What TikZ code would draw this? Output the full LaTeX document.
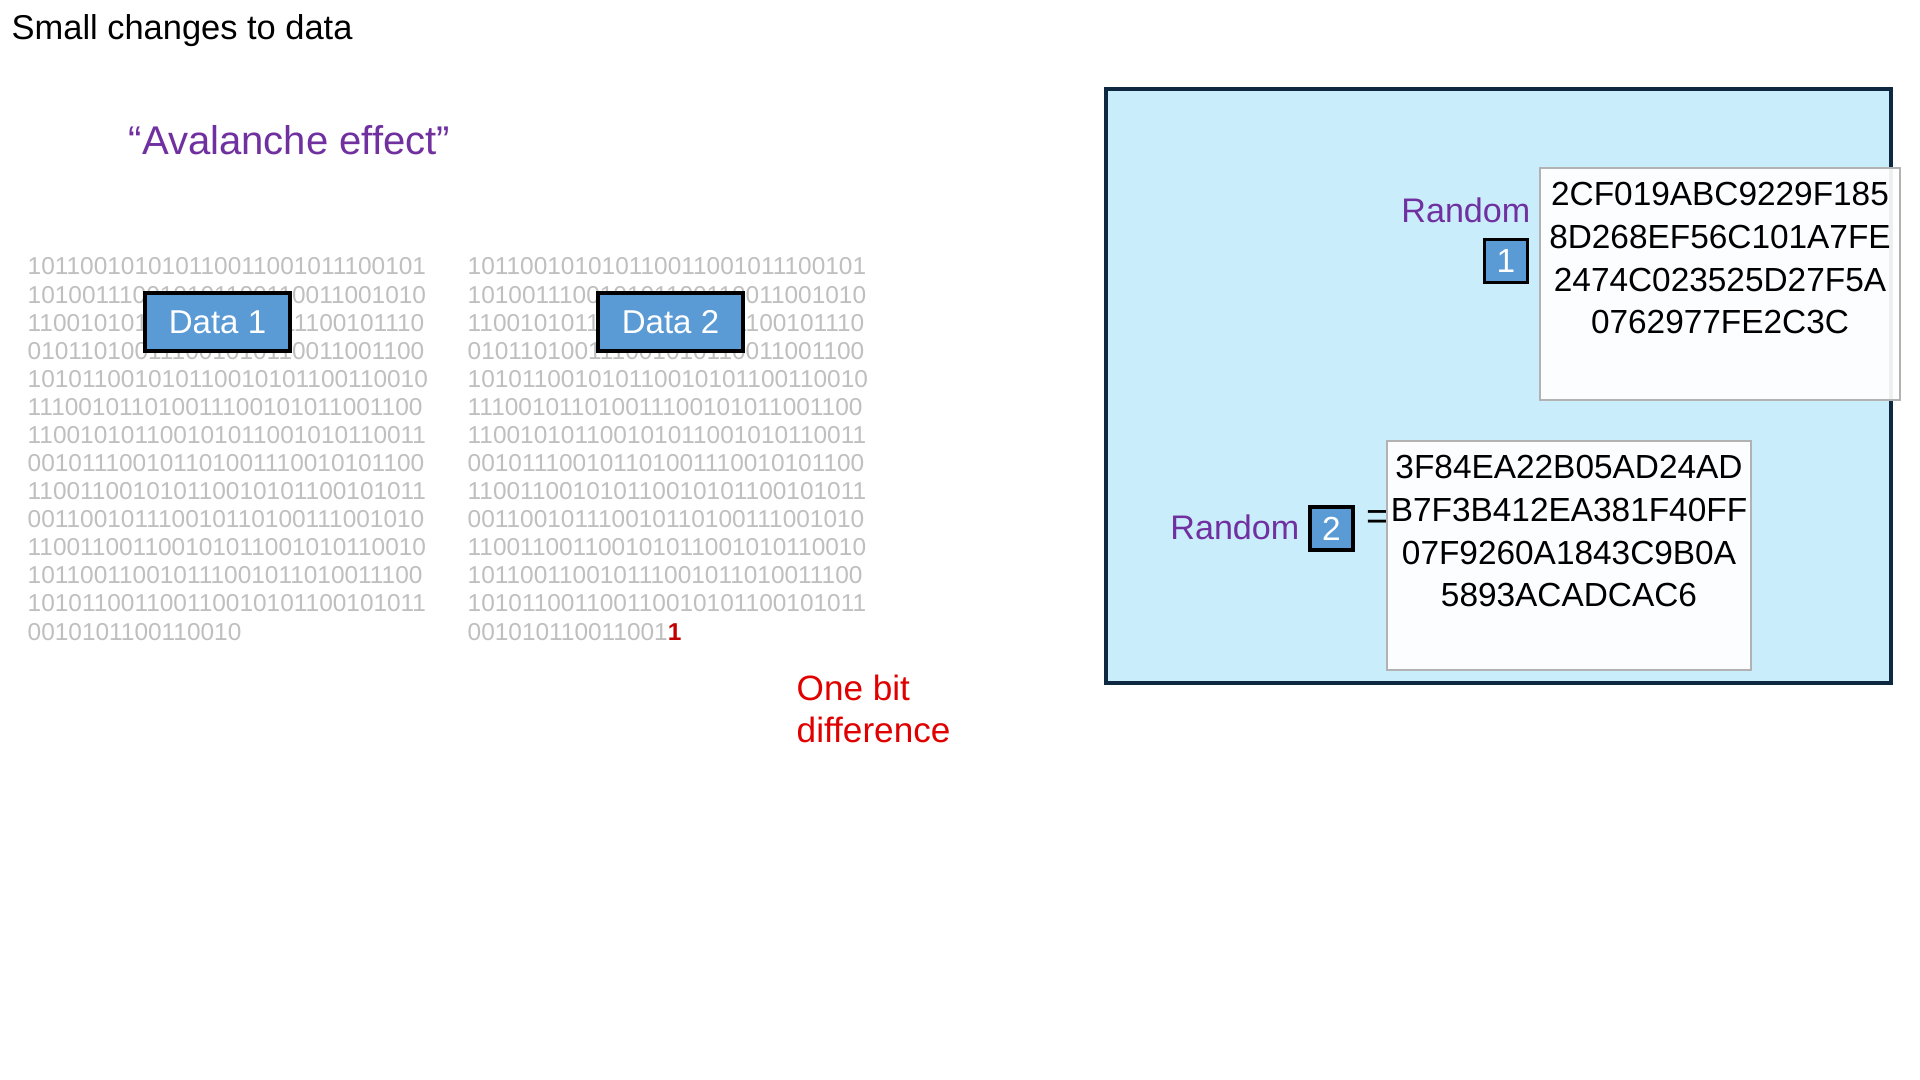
\documentclass[tikz,border=0pt]{standalone}
\usepackage{fontspec}
\setmainfont{Liberation Sans}
\usetikzlibrary{positioning}
\definecolor{slPurple}{HTML}{7030A0}
\definecolor{slBlue}{HTML}{5B9BD5}
\definecolor{slRed}{HTML}{E00000}
\definecolor{slDarkRed}{HTML}{C00000}
\definecolor{slNavy}{HTML}{0E2841}
\definecolor{slSky}{HTML}{CAEDFB}
\definecolor{slBits}{HTML}{BFBFBF}
\newcommand{\bitlines}{101100101010110011001011100101,
  101001110010101100110011001010, 110010101100101010011100101110,
  010110100111001010110011001100, 101011001010110010101100110010,
  111001011010011100101011001100, 110010101100101011001010110011,
  001011100101101001110010101100, 110011001010110010101100101011,
  001100101110010110100111001010, 110011001100101011001010110010,
  101100110010111001011010011100, 101011001100110010101100101011}
\tikzset{
  % one line of the grey bit pattern
  bits/.style     = {font=\fontsize{6.95}{8}\selectfont, slBits, inner sep=0,
                     anchor=base west},
  databox/.style  = {draw=black, line width=1.1pt, fill=slBlue, text=white,
                     minimum width=1.45cm, minimum height=0.58cm, inner sep=0,
                     font=\fontsize{9.4}{11}\selectfont},
  numbox/.style   = {draw=black, line width=1.1pt, fill=slBlue, text=white,
                     minimum size=0.43cm, inner sep=0,
                     font=\fontsize{9.5}{11}\selectfont},
  hexbox/.style   = {draw=gray!60, line width=0.4pt, fill=white,
                     fill opacity=0.93, inner sep=0},
  hextext/.style  = {font=\fontsize{9.5}{12.2}\selectfont, align=center,
                     inner sep=0, anchor=north},
  randlbl/.style  = {font=\fontsize{9.7}{11}\selectfont, slPurple, inner sep=0,
                     anchor=base east},
}

\begin{document}
\begin{tikzpicture}[x=1cm,y=1cm]
  \fill[white] (0,0) rectangle (19.2,-10.8);
  \useasboundingbox (0,0) rectangle (19.2,-10.8);
  % --- headings ----------------------------------------------------------
  \node[font=\fontsize{9.8}{11.8}\selectfont, inner sep=0, anchor=base west]
    (title) at (0.11,-0.395) {Small changes to data};
  \node[font=\fontsize{11.4}{13}\selectfont, slPurple, inner sep=0, anchor=base west]
    (aval) at (1.28,-1.55) {“Avalanche effect”};
  % --- the two bit patterns ----------------------------------------------
  \foreach \blk/\xo in {A/0.27, B/4.67} {
    \foreach \row [count=\i, evaluate=\i as \yo using -2.75-(\i-1)*0.2808] in \bitlines
      \node[bits] (bits\blk\i) at (\xo,\yo) {\row};
  }
  \node[bits] (bitsA14) at (0.27,-6.4004) {0010101100110010};
  \node[bits] (bitsB14) at (4.67,-6.4004)
    {001010110011001\textcolor{slDarkRed}{\textbf{1}}};
  \node[databox] (data1) at (2.175,-3.22) {Data 1};
  \node[databox] (data2) at (6.705,-3.22) {Data 2};
  \node[font=\fontsize{10}{12}\selectfont, slRed, align=left, inner sep=0,
    anchor=north west] (onebit) at (7.96,-6.745) {One bit\\difference};
  % --- hash outputs --------------------------------------------------------
  \draw[slNavy, line width=1.3pt, fill=slSky] (11.06,-0.89) rectangle (18.91,-6.83);
  \node[font=\fontsize{11}{13}\selectfont, inner sep=0] (eq2) at (13.78,-5.20) {=};
  \node[hexbox, minimum width=3.6cm, minimum height=2.32cm] (hex1) at (17.20,-2.84) {};
  \node[hextext] (hex1txt) at ([yshift=-0.14cm]hex1.north)
    {2CF019ABC9229F185\\8D268EF56C101A7FE\\2474C023525D27F5A\\0762977FE2C3C};
  \node[hexbox, minimum width=3.64cm, minimum height=2.29cm] (hex2) at (15.69,-5.555) {};
  \node[hextext] (hex2txt) at ([yshift=-0.14cm]hex2.north)
    {3F84EA22B05AD24AD\\B7F3B412EA381F40FF\\07F9260A1843C9B0A\\5893ACADCAC6};
  \node[randlbl] (rand1) at (15.31,-2.23) {Random};
  \node[numbox] (num1) at (15.06,-2.61) {1};
  \node[numbox] (num2) at (13.315,-5.285) {2};
  \node[randlbl] (rand2) at (13.00,-5.39) {Random};
\end{tikzpicture}
\end{document}
